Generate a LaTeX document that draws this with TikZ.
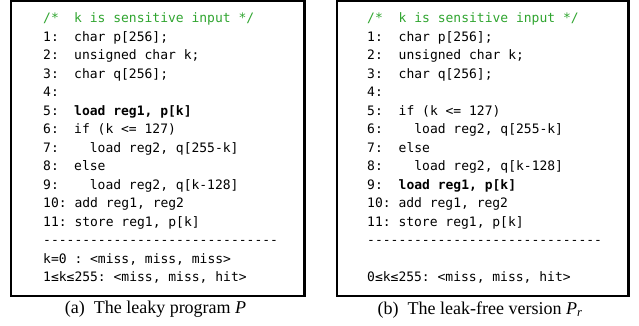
\documentclass[tikz,border=0pt]{standalone}
\usepackage{fontspec}
\setmainfont{Liberation Serif}
\setmonofont{DejaVu Sans Mono}
\definecolor{cmtgreen}{RGB}{48,165,48}
\tikzset{
  frame/.style={draw=black, line width=2.2pt},
  codetxt/.style={anchor=base west, inner sep=0pt, font=\ttfamily\fontsize{13}{15}\selectfont},
  capt/.style={anchor=base, inner sep=0pt, font=\fontsize{18}{21}\selectfont},
}
\begin{document}
\begin{tikzpicture}[x=1pt,y=-1pt]
\useasboundingbox (0,0) rectangle (639,325);

% ---- left listing: leaky program ----
\draw[frame] (11,1.1) rectangle (304.5,296);
\node[codetxt,text=cmtgreen] (a0) at (43,22.5) {/*};
\node[codetxt,text=cmtgreen] (a0c) at (74,22.5) {k is sensitive input */};
\foreach \i/\n/\c in {1/1:/{char p[256];},
                      2/2:/{unsigned char k;},
                      3/3:/{char q[256];},
                      4/4:/{},
                      5/5:/{\bfseries load reg1, p[k]},
                      6/6:/{if (k <= 127)},
                      7/7:/{\hphantom{ll}load reg2, q[255-k]},
                      8/8:/{else},
                      9/9:/{\hphantom{ll}load reg2, q[k-128]}}{
  \node[codetxt] (al\i) at (43,22.5+18.5*\i) {\n};
  \node[codetxt] (ac\i) at (74,22.5+18.5*\i) {\vphantom{Ag}\c};
}
\node[codetxt] (a10) at (43,22.5+18.5*10) {10: add reg1, reg2};
\node[codetxt] (a11) at (43,22.5+18.5*11) {11: store reg1, p[k]};
\node[codetxt] (a12) at (43,22.5+18.5*12) {------------------------------};
\node[codetxt] (a13) at (43,22.5+18.5*13) {k=0 : <miss, miss, miss>};
\node[codetxt] (a14) at (43,22.5+18.5*14) {1≤k≤255: <miss, miss, hit>};
\node[capt] (capa) at (155.5,313.5) {(a)\ \ The leaky program \textit{P}};

% ---- right listing: leak-free version ----
\draw[frame] (337,1.1) rectangle (628.5,296);
\node[codetxt,text=cmtgreen] (b0) at (367,22.5) {/*};
\node[codetxt,text=cmtgreen] (b0c) at (398.5,22.5) {k is sensitive input */};
\foreach \i/\n/\c in {1/1:/{char p[256];},
                      2/2:/{unsigned char k;},
                      3/3:/{char q[256];},
                      4/4:/{},
                      5/5:/{if (k <= 127)},
                      6/6:/{\hphantom{ll}load reg2, q[255-k]},
                      7/7:/{else},
                      8/8:/{\hphantom{ll}load reg2, q[k-128]},
                      9/9:/{\bfseries load reg1, p[k]}}{
  \node[codetxt] (bl\i) at (367,22.5+18.5*\i) {\n};
  \node[codetxt] (bc\i) at (398.5,22.5+18.5*\i) {\vphantom{Ag}\c};
}
\node[codetxt] (b10) at (367,22.5+18.5*10) {10: add reg1, reg2};
\node[codetxt] (b11) at (367,22.5+18.5*11) {11: store reg1, p[k]};
\node[codetxt] (b12) at (367,22.5+18.5*12) {------------------------------};
\node[codetxt] (b14) at (367,22.5+18.5*14) {0≤k≤255: <miss, miss, hit>};
\node[capt] (capb) at (480,314) {(b)\ \ The leak-free version \textit{P\textsubscript{r}}};
\end{tikzpicture}
\end{document}
